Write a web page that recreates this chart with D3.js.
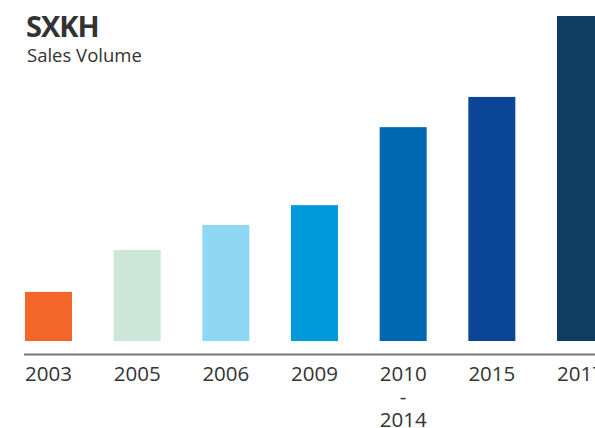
<!DOCTYPE html>
<html>
<head>
<meta charset="utf-8">
<script src="https://cdn.jsdelivr.net/npm/d3@7"></script>
<style>
  body { margin: 0; background: #fff; }
  text { font-family: "Open Sans", "Noto Sans", sans-serif; fill: #333; }
</style>
</head>
<body>
<script>
// values (relative, tallest bar = 100)
var years = ["2003", "2005", "2006", "2009", "2010-2014", "2015", "2017"];
var sales = [15.1, 28, 35.7, 41.8, 65.8, 75.1, 100];
var colors = ["#f36529", "#cce6d7", "#8fd8f5", "#0099d9", "#0068b3", "#0b4595", "#0f3c63"];

var w = 595;
var h = 428;

var svg = d3.select("body")
  .append("svg")
  .attr("width", w)
  .attr("height", h);

// last bar runs past the right edge, like the original
var x = d3.scaleBand()
  .domain(years)
  .range([25, 604])
  .paddingInner(0.47)
  .paddingOuter(0);

var y = d3.scaleLinear()
  .domain([0, 100])
  .range([341, 16]);

// title
svg.append("text")
  .attr("x", 26)
  .attr("y", 37)
  .style("font-size", "29px")
  .style("font-weight", "bold")
  .style("letter-spacing", "-1px")
  .text("SXKH");

svg.append("text")
  .attr("x", 27)
  .attr("y", 62)
  .style("font-size", "18.5px")
  .text("Sales Volume");

// bars
svg.selectAll("rect.bar")
  .data(years)
  .enter()
  .append("rect")
  .attr("class", "bar")
  .attr("x", d => x(d))
  .attr("width", x.bandwidth())
  .attr("y", (d, i) => y(sales[i]))
  .attr("height", (d, i) => y(0) - y(sales[i]))
  .attr("fill", (d, i) => colors[i]);

// axis
var axis = svg.append("g")
  .attr("transform", "translate(0,354.5)")
  .call(d3.axisBottom(x).tickSize(0).tickPadding(0));

axis.select(".domain").remove();
axis.append("line")
  .attr("x1", 24)
  .attr("x2", w)
  .attr("stroke", "#777")
  .attr("stroke-width", 2);

axis.selectAll(".tick text")
  .style("font-size", "20.5px")
  .attr("fill", "#333")
  .attr("dy", null)
  .attr("y", 0)
  .each(function(d) {
    var t = d3.select(this);
    var parts = d.indexOf("-") > 0 ? [d.split("-")[0], "-", d.split("-")[1]] : [d];
    t.text(null);
    parts.forEach(function(p, i) {
      t.append("tspan")
        .attr("x", 0)
        .attr("y", 26 + i * 23)
        .text(p);
    });
  });
</script>
</body>
</html>
